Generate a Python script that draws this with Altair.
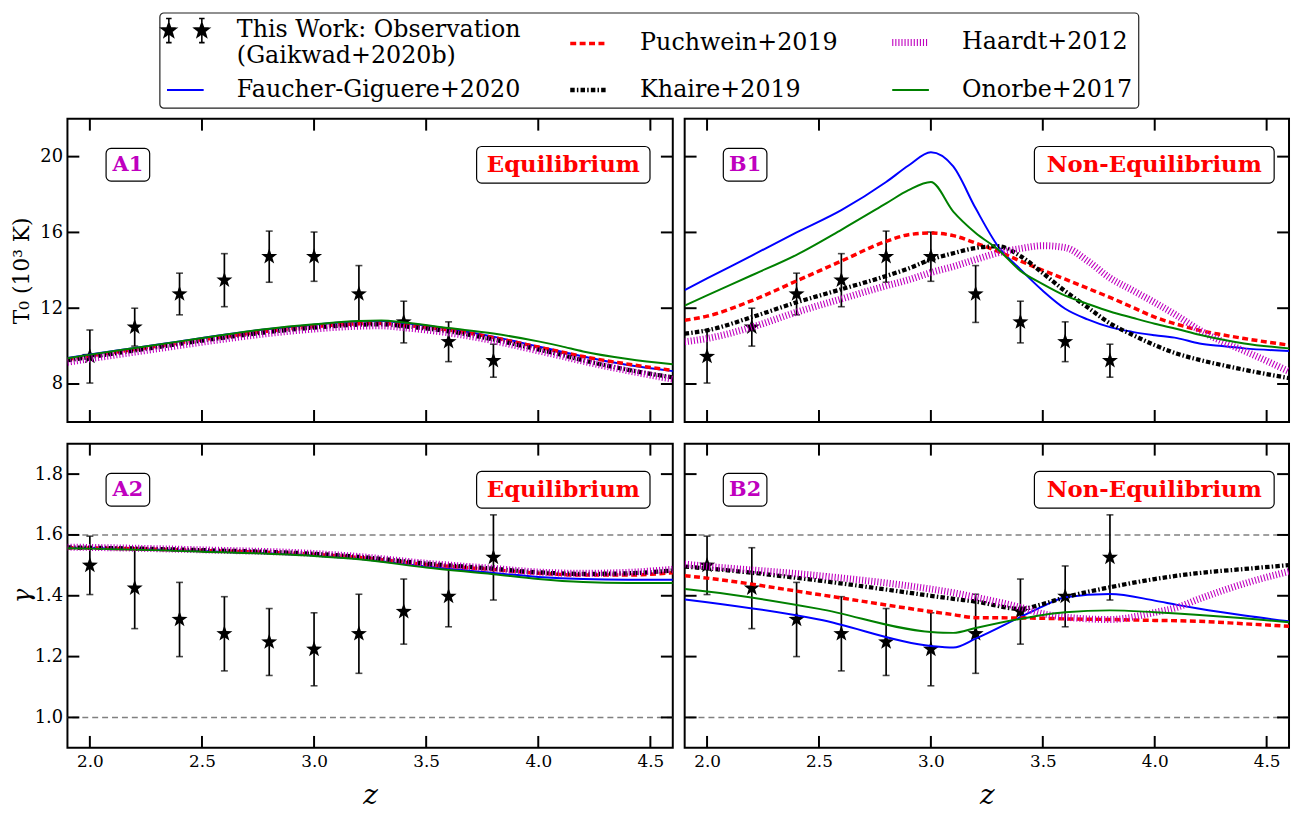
import math
import pandas as pd
import altair as alt

FONT = "DejaVu Serif"

# ---------------- data ----------------
OBS_Z = [2.0, 2.2, 2.4, 2.6, 2.8, 3.0, 3.2, 3.4, 3.6, 3.8]
OBS_T0 = [9.45, 11.0, 12.75, 13.48, 14.72, 14.72, 12.75, 11.27, 10.23, 9.23]
OBS_T0_ERR = [1.4, 1.0, 1.1, 1.4, 1.35, 1.3, 1.5, 1.1, 1.05, 0.87]
OBS_GAMMA = [1.50, 1.425, 1.322, 1.275, 1.248, 1.224, 1.275, 1.348, 1.398, 1.526]
OBS_GAMMA_ERR = [0.096, 0.133, 0.122, 0.122, 0.11, 0.12, 0.13, 0.107, 0.10, 0.14]

# Panel A1: T0, equilibrium
Z_A1 = [1.9, 2.0, 2.2, 2.4, 2.6, 2.8, 3.0, 3.2, 3.3, 3.4, 3.6, 3.8, 4.0, 4.1, 4.2, 4.4, 4.6]
A1_FG = [9.38, 9.56, 9.90, 10.25, 10.60, 10.90, 11.13, 11.30, 11.32, 11.22, 10.92, 10.50, 9.98, 9.72, 9.45, 9.00, 8.68]
A1_PU = [9.30, 9.48, 9.82, 10.17, 10.50, 10.80, 11.03, 11.18, 11.20, 11.10, 10.85, 10.45, 9.95, 9.70, 9.45, 9.05, 8.72]
A1_KH = [9.25, 9.42, 9.77, 10.12, 10.45, 10.75, 10.98, 11.13, 11.15, 11.05, 10.78, 10.35, 9.82, 9.55, 9.25, 8.75, 8.35]
A1_HM = [9.15, 9.33, 9.68, 10.03, 10.37, 10.67, 10.90, 11.05, 11.07, 10.97, 10.70, 10.28, 9.75, 9.48, 9.20, 8.70, 8.25]
A1_ON = [9.36, 9.55, 9.90, 10.25, 10.60, 10.92, 11.15, 11.33, 11.35, 11.25, 10.95, 10.66, 10.25, 10.00, 9.72, 9.32, 9.04]

# Panel B1: T0, non-equilibrium
Z_B1 = [1.9, 2.0, 2.2, 2.4, 2.6, 2.8, 2.9, 3.0, 3.1, 3.2, 3.3, 3.4, 3.5, 3.6, 3.7, 3.8, 3.9, 4.0, 4.1, 4.2, 4.3, 4.4, 4.6]
B1_FG = [12.96, 13.57, 14.78, 16.00, 17.18, 18.66, 19.53, 20.23, 19.48, 17.27, 15.27, 14.05, 12.92, 11.97, 11.41, 11.00, 10.75, 10.57, 10.42, 10.14, 10.00, 9.88, 9.74]
B1_PU = [11.36, 11.58, 12.40, 13.44, 14.49, 15.53, 15.88, 15.97, 15.83, 15.44, 15.00, 14.49, 14.00, 13.53, 13.05, 12.57, 12.05, 11.53, 11.15, 10.83, 10.60, 10.40, 10.05]
B1_KH = [10.66, 10.83, 11.53, 12.31, 13.00, 13.70, 14.10, 14.57, 14.90, 15.18, 15.27, 14.75, 13.85, 12.90, 12.05, 11.20, 10.60, 10.05, 9.60, 9.27, 9.00, 8.75, 8.31]
B1_HM = [10.23, 10.40, 11.00, 11.79, 12.49, 13.18, 13.50, 13.88, 14.20, 14.57, 14.92, 15.15, 15.30, 15.20, 14.50, 13.60, 12.95, 12.30, 11.60, 10.85, 10.25, 9.75, 8.66]
B1_ON = [12.14, 12.68, 13.74, 14.82, 16.14, 17.53, 18.23, 18.66, 17.10, 15.97, 15.10, 13.97, 13.27, 12.66, 12.23, 11.83, 11.50, 11.18, 10.90, 10.60, 10.35, 10.14, 9.88]

# Panel A2: gamma, equilibrium
Z_A2 = [1.9, 2.0, 2.5, 3.0, 3.2, 3.5, 3.8, 4.0, 4.2, 4.4, 4.6]
A2_FG = [1.558, 1.557, 1.547, 1.532, 1.522, 1.496, 1.475, 1.462, 1.455, 1.453, 1.453]
A2_PU = [1.558, 1.557, 1.549, 1.536, 1.526, 1.503, 1.486, 1.474, 1.468, 1.468, 1.476]
A2_KH = [1.559, 1.558, 1.550, 1.538, 1.528, 1.506, 1.489, 1.477, 1.472, 1.474, 1.483]
A2_HM = [1.560, 1.559, 1.551, 1.539, 1.529, 1.507, 1.490, 1.478, 1.474, 1.477, 1.487]
A2_ON = [1.556, 1.555, 1.545, 1.531, 1.520, 1.493, 1.471, 1.455, 1.445, 1.442, 1.442]

# Panel B2: gamma, non-equilibrium
Z_B2 = [1.9, 2.0, 2.5, 3.0, 3.1, 3.2, 3.4, 3.5, 3.6, 3.8, 4.0, 4.1, 4.2, 4.4, 4.6]
B2_FG = [1.388, 1.379, 1.322, 1.235, 1.230, 1.259, 1.330, 1.365, 1.395, 1.406, 1.384, 1.370, 1.357, 1.335, 1.316]
B2_PU = [1.466, 1.458, 1.404, 1.348, 1.338, 1.328, 1.327, 1.326, 1.324, 1.322, 1.319, 1.318, 1.316, 1.308, 1.300]
B2_KH = [1.496, 1.490, 1.450, 1.400, 1.390, 1.381, 1.357, 1.373, 1.395, 1.428, 1.455, 1.466, 1.475, 1.488, 1.501]
B2_HM = [1.504, 1.497, 1.466, 1.422, 1.410, 1.395, 1.362, 1.341, 1.330, 1.322, 1.345, 1.362, 1.390, 1.440, 1.480]
B2_ON = [1.422, 1.414, 1.357, 1.281, 1.278, 1.294, 1.324, 1.337, 1.346, 1.352, 1.346, 1.342, 1.337, 1.326, 1.313]

X_TICKS = [2.0, 2.5, 3.0, 3.5, 4.0, 4.5]
T0_TICKS = [8, 12, 16, 20]
GAMMA_TICKS = [1.0, 1.2, 1.4, 1.6, 1.8]
GAMMA_REFS = [1.0, 1.6]

OBS_NAME = "This Work: Observation (Gaikwad+2020b)"
# legend order (filled column by column, 3 columns)
SERIES = [OBS_NAME, "Faucher-Giguere+2020", "Puchwein+2019", "Khaire+2019", "Haardt+2012", "Onorbe+2017"]
SERIES_COLORS = ["#000000", "#0000ff", "#ff0000", "#000000", "#bf00bf", "#008000"]
SERIES_FILL = ["#000000", "transparent", "transparent", "transparent", "transparent", "transparent"]
SERIES_DASH = [[1, 0], [1, 0], [6, 3.5], [4.5, 2.2, 1.5, 2.2], [1.1, 2.0], [1, 0]]
SERIES_WIDTH = [1.6, 2, 3.5, 4.3, 7, 2]
DRAW_ORDER = ["Faucher-Giguere+2020", "Puchwein+2019", "Khaire+2019", "Haardt+2012", "Onorbe+2017"]


# ---------------- symbol shapes ----------------
def star_path(cx, cy, R, r):
    pts = []
    for k in range(10):
        ang = math.radians(-90 + 36 * k)
        rad = R if k % 2 == 0 else r
        pts.append((cx + rad * math.cos(ang), cy + rad * math.sin(ang)))
    return "M" + " L".join(f"{x:.3f},{y:.3f}" for x, y in pts) + " Z"


STAR = star_path(0, 0, 1, 0.4)
LEG_OBS = ""
for cx in (-0.9, 0.9):
    LEG_OBS += star_path(cx, 0, 0.42, 0.17) + " "
    LEG_OBS += (f"M{cx},-0.66 L{cx},0.66 M{cx-0.15},-0.66 L{cx+0.15},-0.66 "
                f"M{cx-0.15},0.66 L{cx+0.15},0.66 ")
SERIES_SHAPE = [LEG_OBS.strip(), "stroke", "stroke", "stroke", "stroke", "stroke"]

# legend stroke width per entry (legend datum.value is the series name; plain points fall back to 2)
WIDTH_EXPR = "datum && datum.value ? ("
for s, wv in zip(SERIES, SERIES_WIDTH):
    WIDTH_EXPR += f"datum.value === '{s}' ? {wv} : "
WIDTH_EXPR += "2) : 2"

LEGEND = alt.Legend(
    title=None,
    orient="none",
    legendX=93,
    legendY=-107,
    columns=3,
    labelFont=FONT,
    labelFontSize=24,
    labelColor="black",
    labelLimit=600,
    labelOffset=40,
    symbolSize=1369,
    symbolOffset=8,
    symbolType="stroke",
    symbolOpacity=1,
    columnPadding=40,
    rowPadding=10,
    padding=6,
    strokeColor="#222222",
    fillColor="white",
    cornerRadius=4,
    labelExpr=f"datum.label === '{OBS_NAME}' ? ['This Work: Observation', '(Gaikwad+2020b)'] : datum.label",
)

COLOR = alt.Color("series:N", scale=alt.Scale(domain=SERIES, range=SERIES_COLORS), legend=LEGEND)
XS = alt.Scale(domain=[1.9, 4.6], nice=False, zero=False)
TL = 12  # inward tick length


def legend_layer():
    df = pd.DataFrame({"series": SERIES})
    return alt.Chart(df).mark_point(opacity=0, filled=False).encode(
        color=COLOR,
        fill=alt.Fill("series:N", scale=alt.Scale(domain=SERIES, range=SERIES_FILL), legend=LEGEND),
        shape=alt.Shape("series:N", scale=alt.Scale(domain=SERIES, range=SERIES_SHAPE), legend=LEGEND),
        strokeDash=alt.StrokeDash("series:N", scale=alt.Scale(domain=SERIES, range=SERIES_DASH), legend=LEGEND),
    )


def make_panel(z_grid, curves, obs_vals, obs_err, ydom, yticks, w, h,
               tag, regime, regime_box, xaxis, yaxis, refs=None, with_legend=False):
    YS = alt.Scale(domain=ydom, nice=False, zero=False)
    X = lambda f: alt.X(f, scale=XS, axis=xaxis)
    Y = lambda f: alt.Y(f, scale=YS, axis=yaxis)
    layers = []
    if with_legend:
        layers.append(legend_layer())
    if refs:
        layers.append(
            alt.Chart(pd.DataFrame({"r": refs})).mark_rule(
                color="#808080", strokeDash=[6, 4], strokeWidth=1.5
            ).encode(y=Y("r:Q"))
        )
    obs = pd.DataFrame({"z": OBS_Z, "v": obs_vals,
                        "lo": [v - e for v, e in zip(obs_vals, obs_err)],
                        "hi": [v + e for v, e in zip(obs_vals, obs_err)]})
    base = alt.Chart(obs)
    layers.append(base.mark_rule(strokeWidth=1.7, color="black").encode(x=X("z:Q"), y=Y("lo:Q"), y2="hi:Q"))
    layers.append(base.mark_tick(orient="horizontal", size=7, thickness=1.6, color="black").encode(x=X("z:Q"), y=Y("lo:Q")))
    layers.append(base.mark_tick(orient="horizontal", size=7, thickness=1.6, color="black").encode(x=X("z:Q"), y=Y("hi:Q")))
    layers.append(base.mark_point(shape=STAR, filled=True, size=290, opacity=1, color="black",
                                  strokeWidth=0).encode(x=X("z:Q"), y=Y("v:Q")))

    for name in DRAW_ORDER:
        i = SERIES.index(name)
        df = pd.DataFrame({"z": z_grid, "v": curves[name], "series": name})
        kw = dict(strokeWidth=SERIES_WIDTH[i], clip=True, strokeCap="butt", interpolate="monotone")
        if SERIES_DASH[i] != [1, 0]:
            kw["strokeDash"] = SERIES_DASH[i]
        layers.append(alt.Chart(df).mark_line(**kw).encode(x=X("z:Q"), y=Y("v:Q"), color=COLOR))

    xt = alt.Chart(pd.DataFrame({"t": X_TICKS}))
    yt = alt.Chart(pd.DataFrame({"t": yticks}))
    tick_style = dict(color="black", strokeWidth=2)
    layers.append(xt.mark_rule(**tick_style).encode(x=X("t:Q"), y=alt.value(0), y2=alt.value(TL)))
    layers.append(xt.mark_rule(**tick_style).encode(x=X("t:Q"), y=alt.value(h), y2=alt.value(h - TL)))
    layers.append(yt.mark_rule(**tick_style).encode(y=Y("t:Q"), x=alt.value(0), x2=alt.value(TL)))
    layers.append(yt.mark_rule(**tick_style).encode(y=Y("t:Q"), x=alt.value(w), x2=alt.value(w - TL)))

    # annotation boxes
    one = pd.DataFrame({"tag": [tag], "regime": [regime]})
    box = dict(fill="white", stroke="black", strokeWidth=1.2, cornerRadius=5)
    layers.append(alt.Chart(one).mark_rect(**box).encode(
        x=alt.value(39), x2=alt.value(83), y=alt.value(30), y2=alt.value(63)))
    layers.append(alt.Chart(one).mark_text(font=FONT, fontWeight="bold", fontSize=21, color="#bf00bf",
                                            align="center", baseline="middle").encode(
        text="tag:N", x=alt.value(61), y=alt.value(47)))
    bx0, bx1 = regime_box
    layers.append(alt.Chart(one).mark_rect(**box).encode(
        x=alt.value(bx0), x2=alt.value(bx1), y=alt.value(28), y2=alt.value(65)))
    layers.append(alt.Chart(one).mark_text(font=FONT, fontWeight="bold", fontSize=23, color="#ff0000",
                                            align="center", baseline="middle").encode(
        text="regime:N", x=alt.value((bx0 + bx1) / 2), y=alt.value(47)))

    return alt.layer(*layers).properties(width=w, height=h)


XAXIS_BOTTOM = alt.Axis(values=X_TICKS, format=".1f", labelFontSize=17, labelPadding=6,
                        domain=False, ticks=False, grid=False, title="z",
                        titleFontSize=28, titleFontStyle="italic", titleFontWeight="normal",
                        titlePadding=12)
YAXIS_T0 = alt.Axis(values=T0_TICKS, format="d", labelFontSize=18, labelPadding=5,
                    domain=False, ticks=False, grid=False, title="T₀ (10³ K)",
                    titleFontSize=22, titleFontWeight="normal", titleX=-46, titleY=153,
                    titleAngle=-90, titleBaseline="middle", titleAlign="center", titleLimit=300)
YAXIS_G = alt.Axis(values=GAMMA_TICKS, format=".1f", labelFontSize=18, labelPadding=5,
                   domain=False, ticks=False, grid=False, title="γ",
                   titleFontSize=24, titleFontStyle="italic", titleFontWeight="normal",
                   titleX=-45, titleY=153, titleAngle=-90, titleBaseline="middle", titleAlign="center")

WA, WB, HT, HB = 611, 610, 306, 307

a1 = make_panel(Z_A1, {"Faucher-Giguere+2020": A1_FG, "Puchwein+2019": A1_PU, "Khaire+2019": A1_KH,
                       "Haardt+2012": A1_HM, "Onorbe+2017": A1_ON},
                OBS_T0, OBS_T0_ERR, [6, 22], T0_TICKS, WA, HT, "A1", "Equilibrium", (413, 588),
                None, YAXIS_T0, with_legend=True)
b1 = make_panel(Z_B1, {"Faucher-Giguere+2020": B1_FG, "Puchwein+2019": B1_PU, "Khaire+2019": B1_KH,
                       "Haardt+2012": B1_HM, "Onorbe+2017": B1_ON},
                OBS_T0, OBS_T0_ERR, [6, 22], T0_TICKS, WB, HT, "B1", "Non-Equilibrium", (353, 595),
                None, None)
a2 = make_panel(Z_A2, {"Faucher-Giguere+2020": A2_FG, "Puchwein+2019": A2_PU, "Khaire+2019": A2_KH,
                       "Haardt+2012": A2_HM, "Onorbe+2017": A2_ON},
                OBS_GAMMA, OBS_GAMMA_ERR, [0.9, 1.9], GAMMA_TICKS, WA, HB, "A2", "Equilibrium", (413, 588),
                XAXIS_BOTTOM, YAXIS_G, refs=GAMMA_REFS)
b2 = make_panel(Z_B2, {"Faucher-Giguere+2020": B2_FG, "Puchwein+2019": B2_PU, "Khaire+2019": B2_KH,
                       "Haardt+2012": B2_HM, "Onorbe+2017": B2_ON},
                OBS_GAMMA, OBS_GAMMA_ERR, [0.9, 1.9], GAMMA_TICKS, WB, HB, "B2", "Non-Equilibrium", (353, 595),
                XAXIS_BOTTOM, None, refs=GAMMA_REFS)

chart = alt.vconcat(
    alt.hconcat(a1, b1, spacing=8),
    alt.hconcat(a2, b2, spacing=8),
    spacing=18,
).properties(
    padding={"left": 2, "top": 0, "right": 0, "bottom": 0}, background="white"
).configure_view(
    stroke="black", strokeWidth=2
).configure_axis(
    labelFont=FONT, titleFont=FONT, labelColor="black", titleColor="black"
).configure_point(
    strokeWidth={"expr": WIDTH_EXPR}
).configure_legend(
    strokeWidth=1.2
)

chart.save("out.html", embed_options={"renderer": "svg", "actions": False})
